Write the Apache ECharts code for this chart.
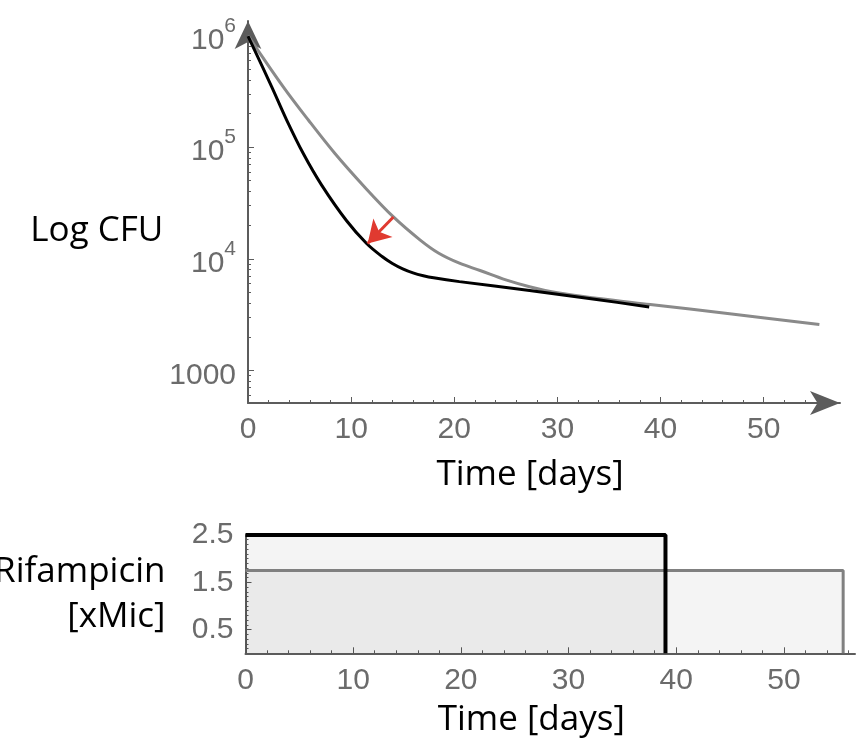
<!DOCTYPE html>
<html>
<head>
<meta charset="utf-8">
<script src="https://cdn.jsdelivr.net/npm/echarts@6/dist/echarts.min.js"></script>
<style>
  html, body { margin: 0; padding: 0; background: #fff; }
  #main { width: 866px; height: 741px; }
</style>
</head>
<body>
<div id="main"></div>
<script>
var chartDom = document.getElementById('main');
var myChart = echarts.init(chartDom);
var option;

// Kill curves (days, CFU)
const blackDays = [0, 2.3, 3.75, 5.36, 7.14, 9.56, 11.5, 13.0, 14.0, 15.0, 16.0, 17.0, 18.0, 20.5, 27.3, 33.8, 38.9];
const blackCFU = [990000, 347000, 175000, 87700, 45700, 21900, 13700, 10470, 9080, 8130, 7480, 7050, 6750, 6240, 5190, 4315, 3700];
const grayDays = [0, 3.42, 5.85, 8.43, 11.3, 14.1, 16.7, 18.5, 20.5, 22.5, 25.0, 27.3, 30.0, 33.8, 39.0, 46.7, 55.4];
const grayCFU = [1000000, 347000, 175000, 87700, 44000, 23700, 14700, 11200, 9120, 7850, 6460, 5620, 4950, 4420, 3890, 3220, 2570];

// red arrow: from grey curve to black curve
const arrowFrom = [14.1, 23700];
const arrowTo = [11.6, 13700];

// Rifampicin dosing (days, xMic)
const blackDoseDays = [0, 39, 39];
const blackDose = [2.5, 2.5, 0];
const grayDoseDays = [0, 55.5, 55.5];
const grayDose = [1.75, 1.75, 0];

// ticks
const timeLabels = [0, 10, 20, 30, 40, 50];
const timeMinor = [2, 4, 6, 8, 12, 14, 16, 18, 22, 24, 26, 28, 32, 34, 36, 38, 42, 44, 46, 48, 52, 54, 56];
const cfuLabels = [1000, 10000, 100000, 1000000];
const cfuMinor = [600, 700, 800, 900,
  2000, 3000, 4000, 5000, 6000, 7000, 8000, 9000,
  20000, 30000, 40000, 50000, 60000, 70000, 80000, 90000,
  200000, 300000, 400000, 500000, 600000, 700000, 800000, 900000];
const doseLabels = [0.5, 1.5, 2.5];
const doseMinor = [0.1, 0.2, 0.3, 0.4, 0.6, 0.7, 0.8, 0.9, 1.0, 1.1, 1.2, 1.3, 1.4,
  1.6, 1.7, 1.8, 1.9, 2.0, 2.1, 2.2, 2.3, 2.4];

function pairs(xs, ys) {
  return xs.map(function (x, i) { return [x, ys[i]]; });
}

const axisColor = '#5c5c5c';
const labelStyle = {
  color: '#6b6b6b',
  fontSize: 30,
  fontFamily: 'Liberation Sans'
};
const titleStyle = {
  color: '#000',
  fontSize: 35,
  fontFamily: 'Open Sans'
};

option = {
  animation: false,
  grid: [
    { left: 248, top: 21, width: 592, height: 382, outerBoundsMode: 'none' },
    { left: 245.5, top: 535, width: 609.5, height: 118.3, outerBoundsMode: 'none' }
  ],
  xAxis: [
    {
      gridIndex: 0, type: 'value', position: 'bottom', min: 0, max: 57.4,
      name: 'Time [days]', nameLocation: 'middle', nameGap: 55,
      nameTextStyle: Object.assign({ padding: [0, 28, 0, 0] }, titleStyle),
      axisLine: { lineStyle: { color: axisColor, width: 2 }, symbol: ['none', 'arrow'], symbolSize: [18, 30] },
      axisTick: { inside: true, length: 6, customValues: timeLabels, lineStyle: { color: axisColor } },
      axisLabel: Object.assign({ customValues: timeLabels, margin: 12 }, labelStyle),
      splitLine: { show: false }
    },
    {
      gridIndex: 0, type: 'value', position: 'bottom', min: 0, max: 57.4,
      axisLine: { show: false },
      axisTick: { inside: true, length: 3, customValues: timeMinor, lineStyle: { color: axisColor } },
      axisLabel: { show: false },
      splitLine: { show: false }
    },
    {
      gridIndex: 1, type: 'value', position: 'bottom', min: 0, max: 56.6,
      name: 'Time [days]', nameLocation: 'middle', nameGap: 49,
      nameTextStyle: Object.assign({ padding: [0, 38, 0, 0] }, titleStyle),
      axisLine: { lineStyle: { color: axisColor, width: 2 } },
      axisTick: { inside: true, length: 6, customValues: timeLabels, lineStyle: { color: axisColor } },
      axisLabel: Object.assign({ customValues: timeLabels, margin: 12 }, labelStyle),
      splitLine: { show: false }
    },
    {
      gridIndex: 1, type: 'value', position: 'bottom', min: 0, max: 56.6,
      axisLine: { show: false },
      axisTick: { inside: true, length: 3, customValues: timeMinor, lineStyle: { color: axisColor } },
      axisLabel: { show: false },
      splitLine: { show: false }
    }
  ],
  yAxis: [
    {
      gridIndex: 0, type: 'log', logBase: 10, position: 'left', min: 510, max: 1350000,
      name: '{n|Log CFU}', nameLocation: 'middle', nameRotate: 0, nameGap: 83,
      nameTextStyle: {
        align: 'right',
        rich: { n: Object.assign({ padding: [38, 0, 0, 0] }, titleStyle) }
      },
      axisLine: { lineStyle: { color: axisColor, width: 2 }, symbol: ['none', 'arrow'], symbolSize: [20, 28] },
      axisTick: { inside: true, length: 6, customValues: cfuLabels, lineStyle: { color: axisColor } },
      axisLabel: {
        customValues: cfuLabels,
        margin: 12,
        formatter: function (v) {
          if (v === 1000) return '{m|1000}';
          return '{m|10}{s|' + Math.round(Math.log10(v)) + '}';
        },
        rich: {
          m: Object.assign({ lineHeight: 40, verticalAlign: 'bottom' }, labelStyle),
          s: { color: '#6b6b6b', fontSize: 21, lineHeight: 21, verticalAlign: 'top', fontFamily: 'Liberation Sans' }
        }
      },
      splitLine: { show: false }
    },
    {
      gridIndex: 0, type: 'log', logBase: 10, position: 'left', min: 510, max: 1350000,
      axisLine: { show: false },
      axisTick: { inside: true, length: 3, customValues: cfuMinor, lineStyle: { color: axisColor } },
      axisLabel: { show: false },
      splitLine: { show: false }
    },
    {
      gridIndex: 1, type: 'value', position: 'left', min: 0, max: 2.5,
      name: 'Rifampicin\n[xMic]', nameLocation: 'middle', nameRotate: 0, nameGap: 80,
      nameTextStyle: Object.assign({ align: 'right', lineHeight: 45 }, titleStyle),
      axisLine: { lineStyle: { color: axisColor, width: 2 } },
      axisTick: { inside: true, length: 6, customValues: doseLabels, lineStyle: { color: axisColor } },
      axisLabel: Object.assign({ customValues: doseLabels, margin: 12 }, labelStyle),
      splitLine: { show: false }
    },
    {
      gridIndex: 1, type: 'value', position: 'left', min: 0, max: 2.5,
      axisLine: { show: false },
      axisTick: { inside: true, length: 3, customValues: doseMinor, lineStyle: { color: axisColor } },
      axisLabel: { show: false },
      splitLine: { show: false }
    }
  ],
  series: [
    {
      name: 'grey',
      type: 'line', xAxisIndex: 0, yAxisIndex: 0,
      data: pairs(grayDays, grayCFU),
      smooth: 0.35, showSymbol: false, silent: true,
      lineStyle: { color: '#8a8a8a', width: 3 },
      markLine: {
        silent: true,
        symbol: ['none', 'arrow'],
        symbolSize: [20, 22],
        label: { show: false },
        lineStyle: { color: '#e03a30', width: 3, type: 'solid' },
        data: [[{ coord: arrowFrom }, { coord: arrowTo }]]
      }
    },
    {
      name: 'black',
      type: 'line', xAxisIndex: 0, yAxisIndex: 0,
      data: pairs(blackDays, blackCFU),
      smooth: 0.35, showSymbol: false, silent: true,
      lineStyle: { color: '#000', width: 3 }
    },
    {
      name: 'grey dose',
      type: 'line', xAxisIndex: 2, yAxisIndex: 2,
      data: pairs(grayDoseDays, grayDose),
      showSymbol: false, silent: true,
      lineStyle: { color: '#808080', width: 3 },
      areaStyle: { color: 'rgba(0,0,0,0.063)' }
    },
    {
      name: 'black dose',
      type: 'line', xAxisIndex: 2, yAxisIndex: 2,
      data: pairs(blackDoseDays, blackDose),
      showSymbol: false, silent: true,
      lineStyle: { color: '#000', width: 4 },
      areaStyle: { color: 'rgba(0,0,0,0.063)' }
    }
  ]
};

option && myChart.setOption(option);
</script>
</body>
</html>
